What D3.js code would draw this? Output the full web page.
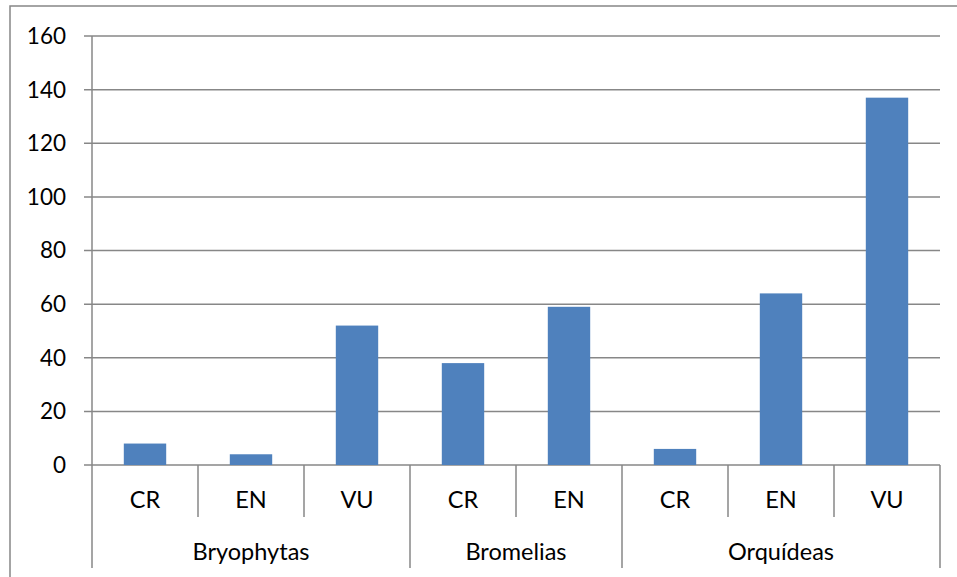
<!DOCTYPE html>
<html>
<head>
<meta charset="utf-8">
<script src="https://cdn.jsdelivr.net/npm/d3@7"></script>
<style>
  body { margin: 0; background: #fff; }
  svg { display: block; font-family: Lato, "Open Sans", sans-serif; }
  .grid line { stroke: #878787; stroke-width: 1.5; }
  .frame { fill: none; stroke: #878787; stroke-width: 1.5; }
</style>
</head>
<body>
<svg id="chart" width="957" height="577"></svg>
<script>
// categories and values
const groups = ['Bryophytas', 'Bromelias', 'Orquídeas'];
const groupCats = [['CR', 'EN', 'VU'], ['CR', 'EN'], ['CR', 'EN', 'VU']];
const values = [8, 4, 52, 38, 59, 6, 64, 137];
const yTicks = [0, 20, 40, 60, 80, 100, 120, 140, 160];

const svg = d3.select('#chart');
const plotL = 92, plotR = 940, plotT = 36, plotB = 465;

// flatten categories into keyed slots
const slots = [];
groupCats.forEach((cats, gi) => cats.forEach(c => slots.push({group: gi, cat: c, key: gi + '-' + c})));
slots.forEach((s, i) => s.value = values[i]);

const x = d3.scaleBand().domain(slots.map(s => s.key)).range([plotL, plotR]).paddingInner(0).paddingOuter(0);
const y = d3.scaleLinear().domain([0, 160]).range([plotB, plotT]);
const barW = x.bandwidth() * 0.4;

// outer chart border (cropped at right and bottom)
svg.append('path').attr('class', 'frame')
  .attr('d', 'M10,580 L10,6 L960,6');

// horizontal gridlines + tick marks
const grid = svg.append('g').attr('class', 'grid');
grid.selectAll('line').data(yTicks).join('line')
  .attr('x1', plotL - 8).attr('x2', plotR)
  .attr('y1', d => y(d)).attr('y2', d => y(d));

// y axis line
svg.append('line').attr('x1', plotL).attr('x2', plotL).attr('y1', plotT).attr('y2', plotB)
  .attr('stroke', '#878787').attr('stroke-width', 1.5);

// y tick labels
svg.append('g').selectAll('text').data(yTicks).join('text')
  .attr('x', 66).attr('y', d => y(d)).attr('dy', '0.35em')
  .attr('text-anchor', 'end').attr('font-size', 22.5).attr('fill', '#000')
  .text(d => d);

// bars
svg.append('g').selectAll('rect').data(slots).join('rect')
  .attr('x', d => x(d.key) + (x.bandwidth() - barW) / 2)
  .attr('width', barW)
  .attr('y', d => y(d.value))
  .attr('height', d => y(0) - y(d.value))
  .attr('fill', '#4F81BD');

// category separators: inner ticks short, group boundaries long
const bounds = [];
let idx = 0;
groupCats.forEach((cats, gi) => {
  bounds.push({x: x(slots[idx].key), long: true});
  for (let k = 1; k < cats.length; k++) bounds.push({x: x(slots[idx + k].key), long: false});
  idx += cats.length;
});
bounds.push({x: plotR, long: true});
svg.append('g').selectAll('line').data(bounds).join('line')
  .attr('x1', d => d.x).attr('x2', d => d.x)
  .attr('y1', plotB).attr('y2', d => d.long ? 568 : 517)
  .attr('stroke', '#878787').attr('stroke-width', 1.5);

// category labels
svg.append('g').selectAll('text').data(slots).join('text')
  .attr('x', d => x(d.key) + x.bandwidth() / 2).attr('y', 500).attr('dy', '0.35em')
  .attr('text-anchor', 'middle').attr('font-size', 23.5).attr('fill', '#000')
  .text(d => d.cat);

// group labels
svg.append('g').selectAll('text').data(groups).join('text')
  .attr('x', (g, gi) => {
    const ks = slots.filter(s => s.group === gi);
    return (x(ks[0].key) + x(ks[ks.length - 1].key) + x.bandwidth()) / 2;
  })
  .attr('y', 552).attr('dy', '0.35em')
  .attr('text-anchor', 'middle').attr('font-size', 23.5).attr('fill', '#000')
  .text(g => g);
</script>
</body>
</html>
